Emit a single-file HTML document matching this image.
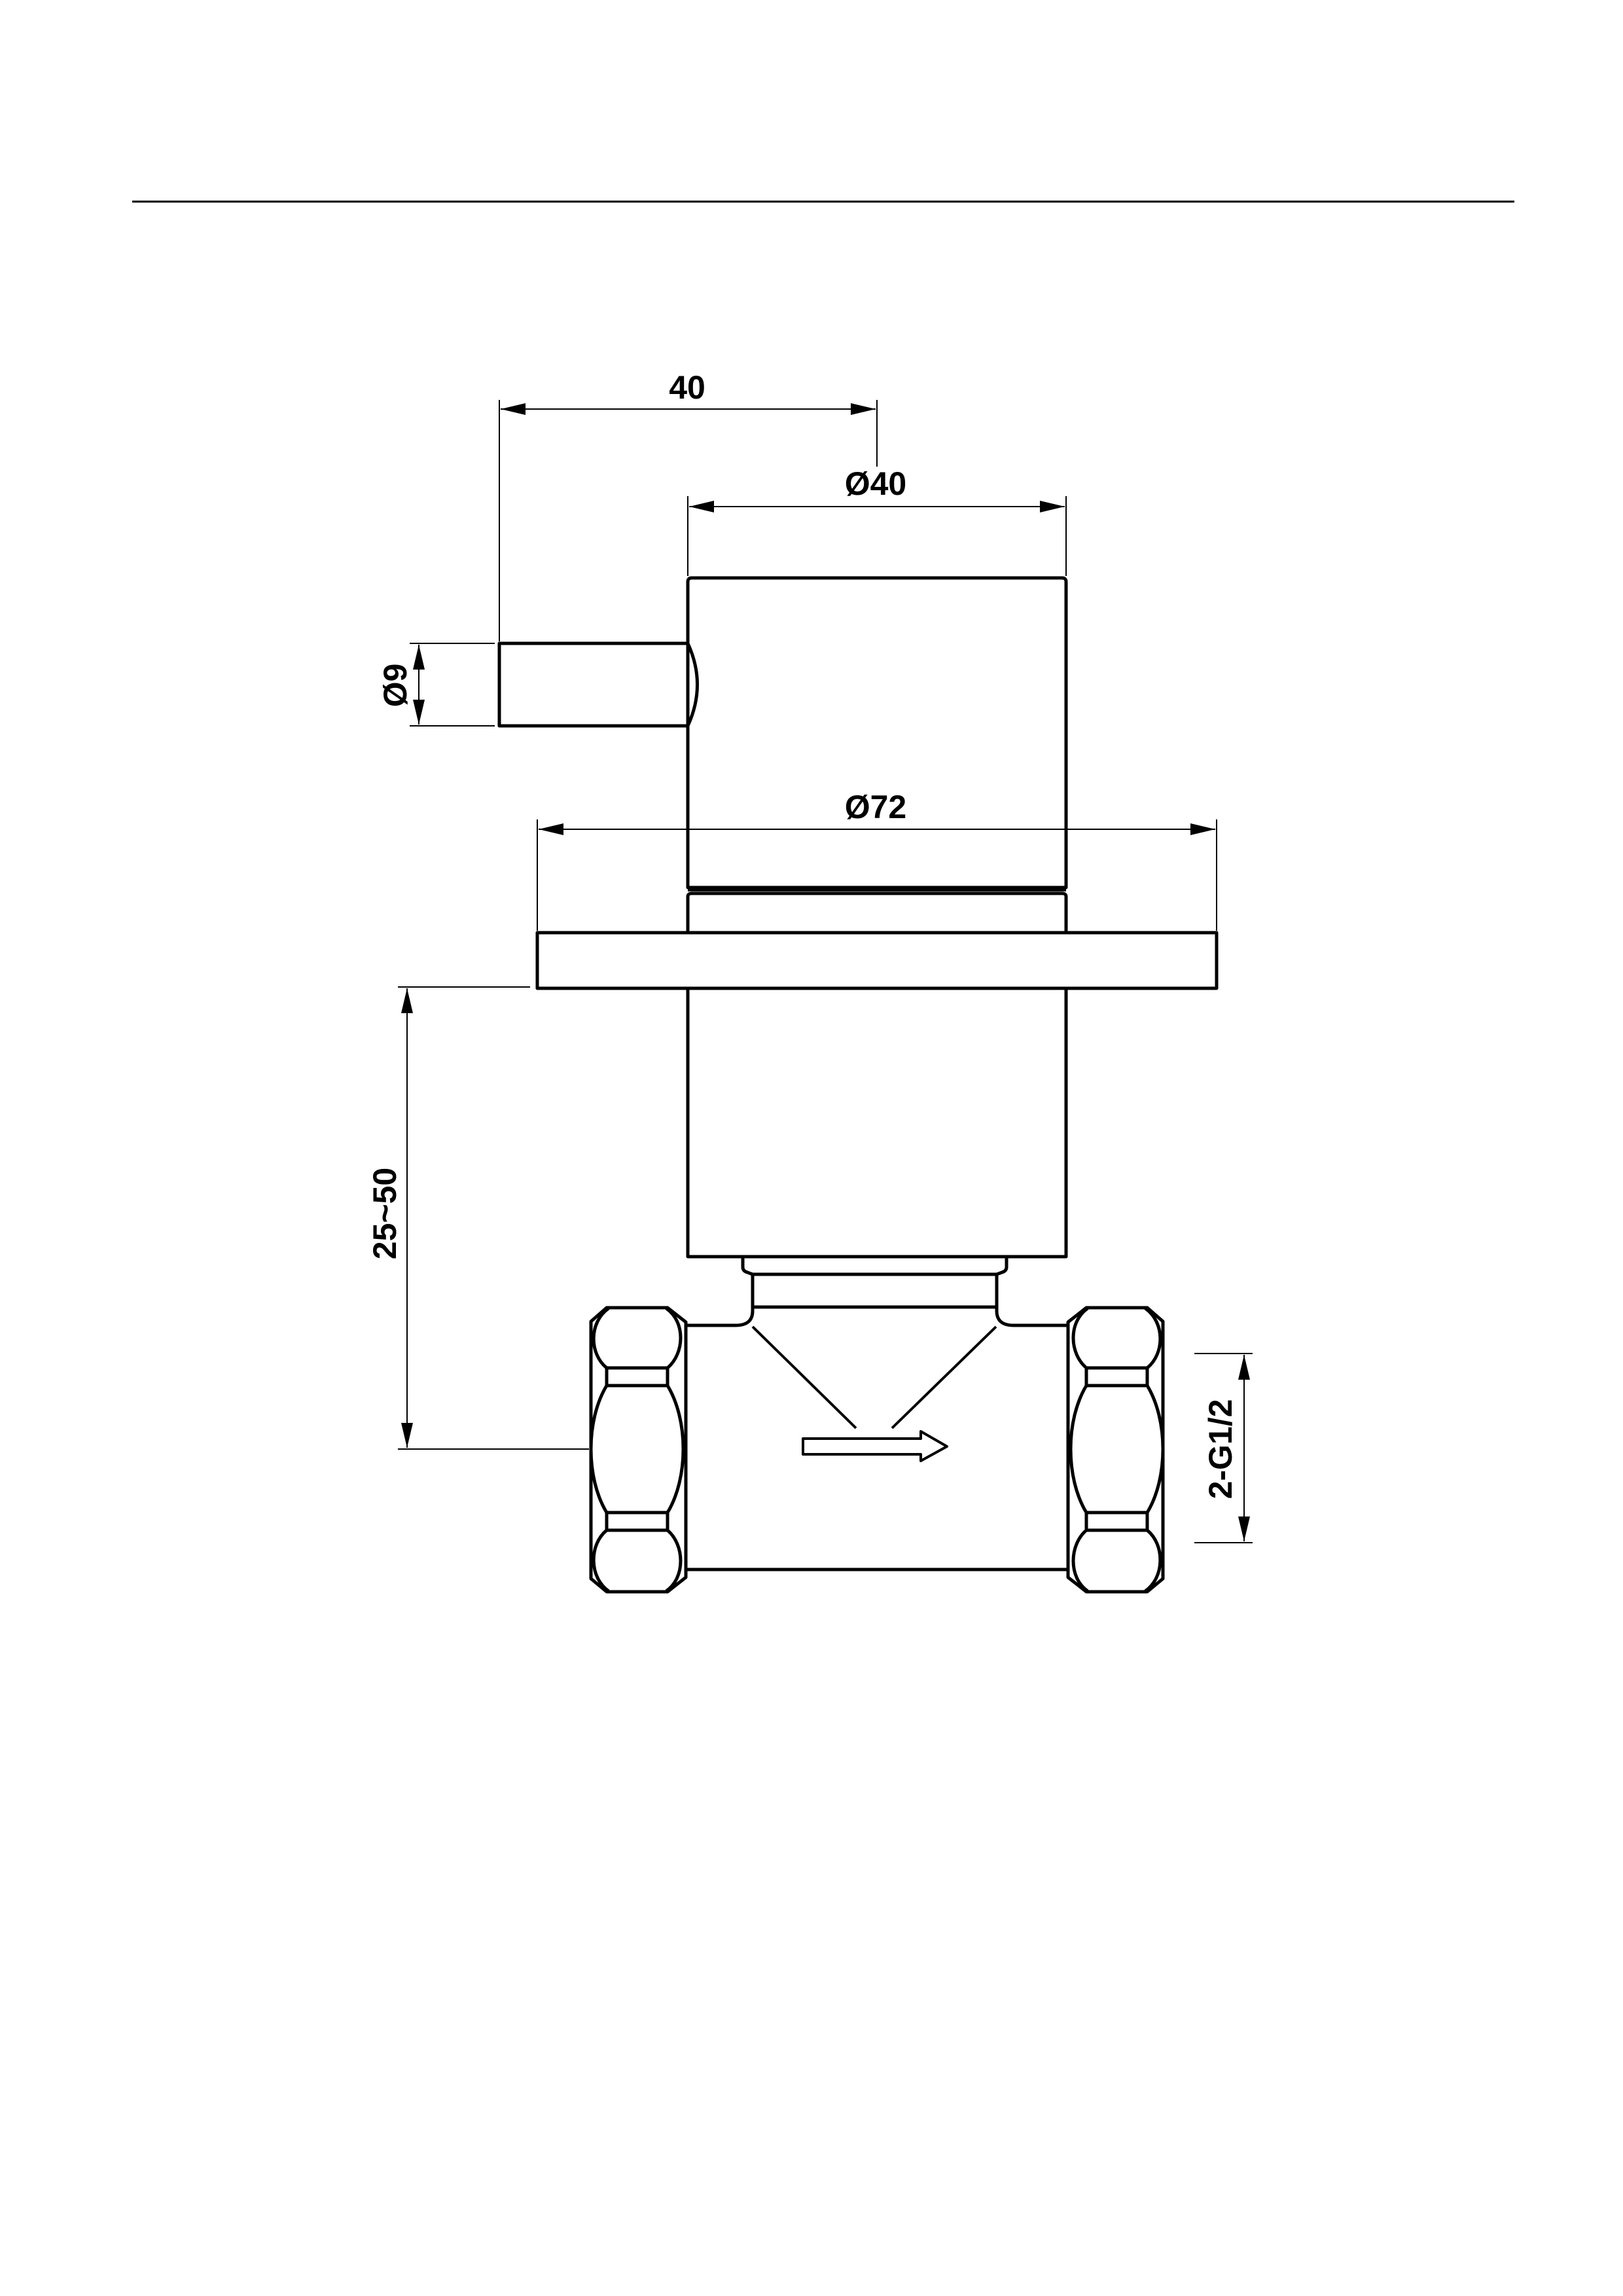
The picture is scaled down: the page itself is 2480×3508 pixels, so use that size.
<!DOCTYPE html>
<html><head><meta charset="utf-8"><style>html,body{margin:0;padding:0;background:#fff}svg{display:block}text{font-family:"Liberation Sans",Arial,sans-serif;font-weight:bold;font-size:50px;fill:#000}</style></head><body>
<svg width="2480" height="3508" viewBox="0 0 2480 3508" xmlns="http://www.w3.org/2000/svg">
<defs>
<marker id="a" markerWidth="40" markerHeight="18" refX="38" refY="9" orient="auto-start-reverse" markerUnits="userSpaceOnUse"><path d="M0,0 L38,9 L0,18 Z" fill="#000"/></marker>
</defs>
<line x1="202" y1="308" x2="2314" y2="308" stroke="#000" stroke-width="3"/>
<g stroke="#000" stroke-width="2" fill="none">
<!-- 40 -->
<line x1="763" y1="611" x2="763" y2="980"/>
<line x1="1340" y1="611" x2="1340" y2="713"/>
<line x1="765" y1="625" x2="1338" y2="625" marker-start="url(#a)" marker-end="url(#a)"/>
<!-- Ø40 -->
<line x1="1051" y1="758" x2="1051" y2="880"/>
<line x1="1629" y1="758" x2="1629" y2="880"/>
<line x1="1053" y1="774" x2="1627" y2="774" marker-start="url(#a)" marker-end="url(#a)"/>
<!-- Ø9 -->
<line x1="626" y1="983" x2="756" y2="983"/>
<line x1="626" y1="1109" x2="756" y2="1109"/>
<line x1="640" y1="985" x2="640" y2="1107" marker-start="url(#a)" marker-end="url(#a)"/>
<!-- Ø72 -->
<line x1="821" y1="1252" x2="821" y2="1422"/>
<line x1="1859" y1="1252" x2="1859" y2="1422"/>
<line x1="823" y1="1267" x2="1857" y2="1267" marker-start="url(#a)" marker-end="url(#a)"/>
<!-- 25~50 -->
<line x1="608" y1="1508" x2="810" y2="1508"/>
<line x1="608" y1="2214" x2="900" y2="2214"/>
<line x1="622" y1="1510" x2="622" y2="2212" marker-start="url(#a)" marker-end="url(#a)"/>
<!-- 2-G1/2 -->
<line x1="1825" y1="2068" x2="1914" y2="2068"/>
<line x1="1825" y1="2357" x2="1914" y2="2357"/>
<line x1="1901" y1="2070" x2="1901" y2="2355" marker-start="url(#a)" marker-end="url(#a)"/>
</g>
<g stroke="#000" stroke-width="5" fill="none" stroke-linejoin="round">
<!-- upper cap -->
<path d="M1051,1356 L1051,889 Q1051,883 1057,883 L1623,883 Q1629,883 1629,889 L1629,1356 Z"/>
<path d="M1051,1425 L1051,1370 Q1051,1365 1057,1365 L1623,1365 Q1629,1365 1629,1370 L1629,1425"/>
<line x1="1051" y1="1360" x2="1629" y2="1360" stroke-width="4"/>
<!-- handle -->
<path d="M1051,983 L763,983 L763,1109 L1051,1109 Q1080,1046 1051,983"/>
<!-- flange -->
<rect x="821" y="1425" width="1038" height="85"/>
<!-- lower body -->
<rect x="1051" y="1510" width="578" height="410"/>
<!-- collar/neck -->
<path d="M1135,1920 L1135,1936 Q1135,1942 1142,1944 L1150,1947 L1523,1947 L1531,1944 Q1538,1942 1538,1936 L1538,1920"/>
<path d="M1150,1947 L1150,2003 Q1150,2025 1124,2025 L1048,2025"/>
<path d="M1523,1947 L1523,2003 Q1523,2025 1549,2025 L1632,2025"/>
<line x1="1150" y1="1997" x2="1523" y2="1997"/>
<!-- body -->
<line x1="1048" y1="2398" x2="1632" y2="2398"/>
<line x1="1150" y1="2027" x2="1308" y2="2182" stroke-width="4"/>
<line x1="1522" y1="2027" x2="1363" y2="2182" stroke-width="4"/>
<path d="M1227,2198 L1407,2198 L1407,2187 L1447,2210 L1407,2232 L1407,2222 L1227,2222 Z" stroke-width="4"/>
<!-- nuts -->
<g id="nut">
<path d="M903,2019 L927,1998 L1020,1998 L1048,2020 L1048,2410 L1020,2432 L927,2432 L903,2412 Z"/>
<path d="M927,2090 C900,2068 900,2020 930,1999 M1018,1999 C1048,2020 1046,2068 1020,2090"/>
<path d="M927,2090 L1020,2090 L1020,2117 L927,2117 Z"/>
<path d="M927,2117 C895,2170 895,2258 927,2311 M1020,2117 C1052,2170 1052,2258 1020,2311"/>
<path d="M927,2311 L1020,2311 L1020,2338 L927,2338 Z"/>
<path d="M927,2338 C900,2360 900,2410 930,2431 M1018,2431 C1048,2410 1046,2360 1020,2338"/>
</g>
<use href="#nut" transform="translate(2680,0) scale(-1,1)"/>
</g>
<text x="1050" y="609" text-anchor="middle">40</text>
<text x="1338" y="756" text-anchor="middle">Ø40</text>
<text x="1338" y="1250" text-anchor="middle">Ø72</text>
<text transform="translate(604,1047) rotate(-90)" text-anchor="middle" dy="17">Ø9</text>
<text transform="translate(588,1854) rotate(-90)" text-anchor="middle" dy="17">25~50</text>
<text transform="translate(1865,2214) rotate(-90)" text-anchor="middle" dy="17">2-G1/2</text>
</svg>
</body></html>
